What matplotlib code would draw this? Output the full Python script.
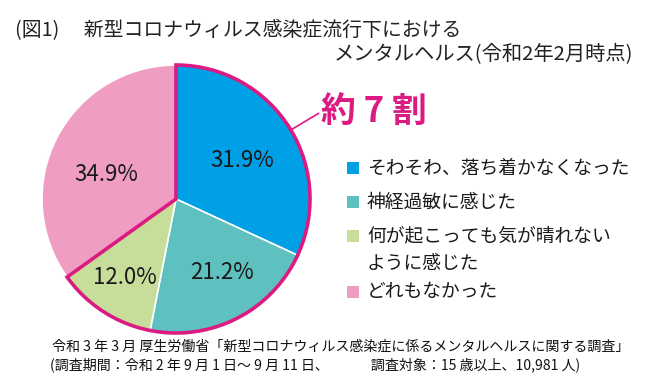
import numpy as np
import matplotlib
matplotlib.use("Agg")
import matplotlib.pyplot as plt
from matplotlib.patches import Wedge, Rectangle

plt.rcParams['font.family'] = ['Noto Sans CJK JP', 'DejaVu Sans']

# data
labels = ['そわそわ、落ち着かなくなった', '神経過敏に感じた',
          '何が起こっても気が晴れない\nように感じた', 'どれもなかった']
values = [31.9, 21.2, 12.0, 34.9]
colors = ['#00A0E6', '#5FC1BF', '#C7DE9B', '#EF9DC3']
highlight_n = 3          # first three slices together = "約7割"
highlight_text = '約 7 割'
magenta = '#DB1B82'

title1 = '(図1)　 新型コロナウィルス感染症流行下における'
title2 = 'メンタルヘルス(令和2年2月時点)'
source1 = '令和 3 年 3 月 厚生労働省「新型コロナウィルス感染症に係るメンタルヘルスに関する調査」'
source2 = '(調査期間：令和 2 年 9 月 1 日～ 9 月 11 日、　　　調査対象：15 歳以上、10,981 人)'

# label placement (distance from centre, angle nudge in degrees)
pct_dist = [0.57, 0.65, 0.70, 0.55]
pct_nudge = [-2, 5, 0, 8]

W, H = 658, 391
fig = plt.figure(figsize=(W / 100, H / 100), dpi=100)

# pie axes: centre (176, 199) px, radius 134 px
cx, cy, r = 176, 199, 134
ax = fig.add_axes([(cx - r) / W, (H - cy - r) / H, 2 * r / W, 2 * r / H])

wedges, texts, autotexts = ax.pie(
    values, colors=colors, startangle=90, counterclock=False,
    autopct='%.1f%%', pctdistance=0.62, radius=1,
    wedgeprops=dict(edgecolor='white', linewidth=1.2),
    textprops=dict(fontsize=16, color='#1a1a1a'))
ax.set_xlim(-1, 1)
ax.set_ylim(-1, 1)
ax.set_aspect('equal')
ax.axis('off')

# move percentage labels a little, like the original
for w, t, d, n in zip(wedges, autotexts, pct_dist, pct_nudge):
    ang = np.deg2rad((w.theta1 + w.theta2) / 2 + n)
    t.set_position((d * np.cos(ang), d * np.sin(ang)))

# magenta outline around the highlighted group
frac = sum(values[:highlight_n]) / sum(values)
end_ang = 90 - 360 * frac
ax.add_patch(Wedge((0, 0), 1, end_ang, 90, fill=False,
                   edgecolor=magenta, linewidth=2.6, clip_on=False, zorder=5))

# leader line + label
a = np.deg2rad(31)
ax.plot([np.cos(a) * 1.0, np.cos(a) * 1.24], [np.sin(a) * 1.0, np.sin(a) * 1.24],
        color=magenta, lw=1.2, clip_on=False)
fig.text(321 / W, 1 - 112 / H, highlight_text, fontsize=25, fontweight='bold',
         color=magenta, ha='left', va='center')

# legend drawn by hand
leg_y = [168, 202, 236, 292]
for lab, col, y in zip(labels, colors, leg_y):
    fig.patches.append(Rectangle((347 / W, 1 - (y + 6) / H), 12 / W, 12 / H,
                                 transform=fig.transFigure, facecolor=col,
                                 edgecolor='none'))
    fig.text(367 / W, 1 - (y - 10.5) / H, lab, fontsize=13.5, color='#1a1a1a',
             ha='left', va='top', linespacing=1.4)

# titles
fig.text(15 / W, 1 - 31 / H, title1, fontsize=14.3, color='#222222',
         ha='left', va='center')
fig.text(633 / W, 1 - 55 / H, title2, fontsize=14.6, color='#222222',
         ha='right', va='center')

# source
fig.text(52 / W, 1 - 347 / H, source1, fontsize=10.1, color='#111111',
         ha='left', va='center')
fig.text(50 / W, 1 - 365 / H, source2, fontsize=10.1, color='#111111',
         ha='left', va='center')

fig.savefig('out.png', dpi=100, facecolor='white')
